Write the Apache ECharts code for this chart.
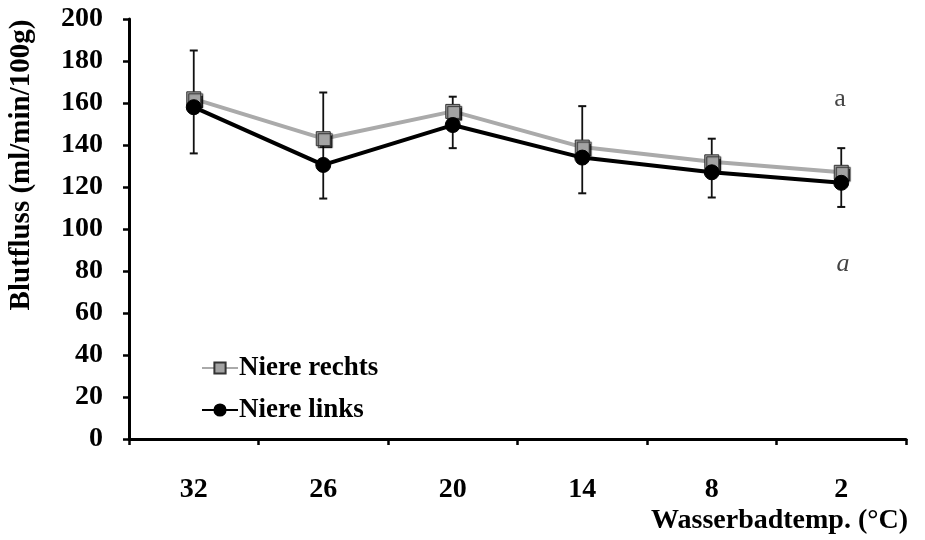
<!DOCTYPE html>
<html>
<head>
<meta charset="utf-8">
<script src="https://cdn.jsdelivr.net/npm/echarts@6/dist/echarts.min.js"></script>
<style>
  html, body { margin: 0; padding: 0; background: #fff; }
  #chart { width: 925px; height: 540px; }
</style>
</head>
<body>
<div id="chart"></div>
<script>
var temps = ['32', '26', '20', '14', '8', '2'];
var rechts = [162, 143, 156, 139, 132, 127];
var links = [158, 130.5, 149.5, 134, 127, 122];
// obere Fehler (rechts) und untere Fehler (links)
var rechtsSD = [23, 22, 7, 19.5, 11, 11.5];
var linksSD = [22, 16, 11, 17, 12, 11.5];

var errData = [];
for (var i = 0; i < temps.length; i++) {
  errData.push([i, links[i] - linksSD[i], rechts[i] + rechtsSD[i]]);
}

var font = 'Liberation Serif';
var chart = echarts.init(document.getElementById('chart'));

var option = {
  animation: false,
  backgroundColor: '#fff',
  grid: {
    left: 129,
    right: 19,
    top: 19,
    bottom: 101,
    containLabel: false
  },
  legend: {
    orient: 'vertical',
    left: 196,
    top: 349,
    itemWidth: 36,
    itemHeight: 14,
    itemGap: 14,
    data: ['Niere rechts', 'Niere links'],
    textStyle: {
      fontFamily: font,
      fontWeight: 'bold',
      fontSize: 27,
      color: '#000',
      lineHeight: 28,
      padding: [0, 0, 0, -4]
    }
  },
  xAxis: {
    type: 'category',
    data: temps,
    boundaryGap: true,
    axisLine: { lineStyle: { color: '#000', width: 3 } },
    axisTick: { show: true, length: 6, lineStyle: { color: '#000', width: 2.5 } },
    axisLabel: {
      margin: 37,
      fontFamily: font,
      fontWeight: 'bold',
      fontSize: 28,
      color: '#000'
    },
    splitLine: { show: false }
  },
  yAxis: {
    type: 'value',
    min: 0,
    max: 200,
    interval: 20,
    axisLine: { show: true, lineStyle: { color: '#000', width: 3 } },
    axisTick: { show: true, length: 6, lineStyle: { color: '#000', width: 2.5 } },
    axisLabel: {
      margin: 26,
      fontFamily: font,
      fontWeight: 'bold',
      fontSize: 28,
      color: '#000'
    },
    splitLine: { show: false }
  },
  graphic: [
    {
      type: 'text',
      x: 22,
      y: 165,
      rotation: Math.PI / 2,
      style: {
        text: 'Blutfluss (ml/min/100g)',
        font: 'bold 29px "Liberation Serif"',
        fill: '#000',
        textAlign: 'center',
        textVerticalAlign: 'middle'
      }
    },
    {
      type: 'text',
      x: 908,
      y: 521,
      style: {
        text: 'Wasserbadtemp. (°C)',
        font: 'bold 28px "Liberation Serif"',
        fill: '#000',
        textAlign: 'right',
        textVerticalAlign: 'middle'
      }
    },
    {
      type: 'text',
      x: 840,
      y: 99,
      style: {
        text: 'a',
        font: '26px "Liberation Serif"',
        fill: '#444',
        textAlign: 'center',
        textVerticalAlign: 'middle'
      }
    },
    {
      type: 'text',
      x: 843,
      y: 264,
      style: {
        text: 'a',
        font: 'italic 26px "Liberation Serif"',
        fill: '#444',
        textAlign: 'center',
        textVerticalAlign: 'middle'
      }
    }
  ],
  series: [
    {
      name: 'Fehler',
      type: 'custom',
      z: 1,
      data: errData,
      renderItem: function (params, api) {
        var x = api.value(0);
        var lo = api.coord([x, api.value(1)]);
        var hi = api.coord([x, api.value(2)]);
        var cw = 4;
        return {
          type: 'group',
          children: [
            { type: 'line', shape: { x1: hi[0], y1: hi[1], x2: lo[0], y2: lo[1] }, style: { stroke: '#111', lineWidth: 1.8 } },
            { type: 'line', shape: { x1: hi[0] - cw, y1: hi[1], x2: hi[0] + cw, y2: hi[1] }, style: { stroke: '#111', lineWidth: 2 } },
            { type: 'line', shape: { x1: lo[0] - cw, y1: lo[1], x2: lo[0] + cw, y2: lo[1] }, style: { stroke: '#111', lineWidth: 2 } }
          ]
        };
      }
    },
    {
      name: 'Niere rechts',
      type: 'line',
      z: 2,
      data: rechts,
      symbol: 'rect',
      symbolSize: 14,
      lineStyle: { color: '#aaaaaa', width: 4 },
      itemStyle: {
        color: '#a3a3a3',
        borderColor: '#333',
        borderWidth: 1,
        shadowColor: 'rgba(0,0,0,0.8)',
        shadowOffsetX: 2,
        shadowOffsetY: 2,
        shadowBlur: 1
      }
    },
    {
      name: 'Niere links',
      type: 'line',
      z: 3,
      data: links,
      symbol: 'circle',
      symbolSize: 15,
      lineStyle: { color: '#000', width: 4 },
      itemStyle: { color: '#000', borderColor: '#000', borderWidth: 1 }
    }
  ]
};

chart.setOption(option);
</script>
</body>
</html>
